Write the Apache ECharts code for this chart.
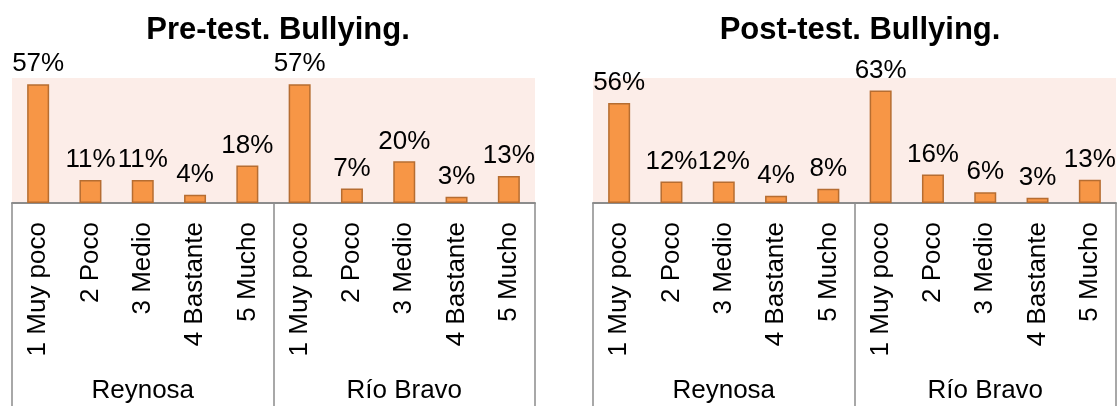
<!DOCTYPE html>
<html>
<head>
<meta charset="utf-8">
<script src="https://cdn.jsdelivr.net/npm/echarts@6/dist/echarts.min.js"></script>
<style>
  html, body { margin: 0; padding: 0; background: #fff; }
  #chart { width: 1117px; height: 406px; }
</style>
</head>
<body>
<div id="chart"></div>
<script>
const levels = ["1 Muy poco", "2 Poco", "3 Medio", "4 Bastante", "5 Mucho"];
const groups = ["Reynosa", "Río Bravo"];
const categories = levels.concat(levels);
const preValues = [57, 11, 11, 4, 18, 57, 7, 20, 3, 13];
const postValues = [56, 12, 12, 4, 8, 63, 16, 6, 3, 13];
const titles = ["Pre-test. Bullying.", "Post-test. Bullying."];
const maxValues = [60, 70];

const font = "'Liberation Sans', Arial, sans-serif";
const axisGray = "#8c8c8c";

const chart = echarts.init(document.getElementById("chart"));

const grids = [
  { left: 12, top: 78, width: 523, height: 125 },
  { left: 593, top: 78, width: 523, height: 125 },
];

const xAxis = [];
const yAxis = [];
const series = [];
[preValues, postValues].forEach((values, i) => {
  // category labels
  xAxis.push({
    type: "category",
    gridIndex: i,
    data: categories,
    position: "bottom",
    axisLine: { show: false },
    axisTick: { show: false },
    axisLabel: {
      interval: 0,
      rotate: 90,
      margin: 19,
      fontSize: 26,
      fontFamily: font,
      color: "#000",
    },
  });
  // group labels with separators
  xAxis.push({
    type: "category",
    gridIndex: i,
    data: groups,
    position: "bottom",
    offset: 0,
    axisLine: { show: true, lineStyle: { color: axisGray, width: 2 } },
    axisTick: { show: true, length: 205, lineStyle: { color: axisGray, width: 1.5 } },
    axisLabel: {
      interval: 0,
      margin: 175,
      fontSize: 26,
      fontFamily: font,
      color: "#000",
    },
  });
  yAxis.push({ type: "value", gridIndex: i, min: 0, max: maxValues[i], show: false, splitLine: { show: false } });
  series.push({
    type: "bar",
    xAxisIndex: i * 2,
    yAxisIndex: i,
    data: values,
    barWidth: 22,
    itemStyle: { color: "#f79646", borderColor: "#b66d31", borderWidth: 1.5 },
    label: {
      show: true,
      position: "top",
      distance: 7,
      formatter: "{c}%",
      fontSize: 26,
      fontFamily: font,
      color: "#000",
    },
  });
});

chart.setOption({
  animation: false,
  title: titles.map((t, i) => ({
    text: t,
    left: i === 0 ? 273 : 855,
    top: 10,
    textAlign: "center",
    textStyle: { fontSize: 31, fontWeight: "bold", fontFamily: font, color: "#000" },
  })),
  grid: grids.map((g) => Object.assign({ show: true, backgroundColor: "#fcede8", borderWidth: 0 }, g)),
  xAxis: xAxis,
  yAxis: yAxis,
  series: series,
});
</script>
</body>
</html>
